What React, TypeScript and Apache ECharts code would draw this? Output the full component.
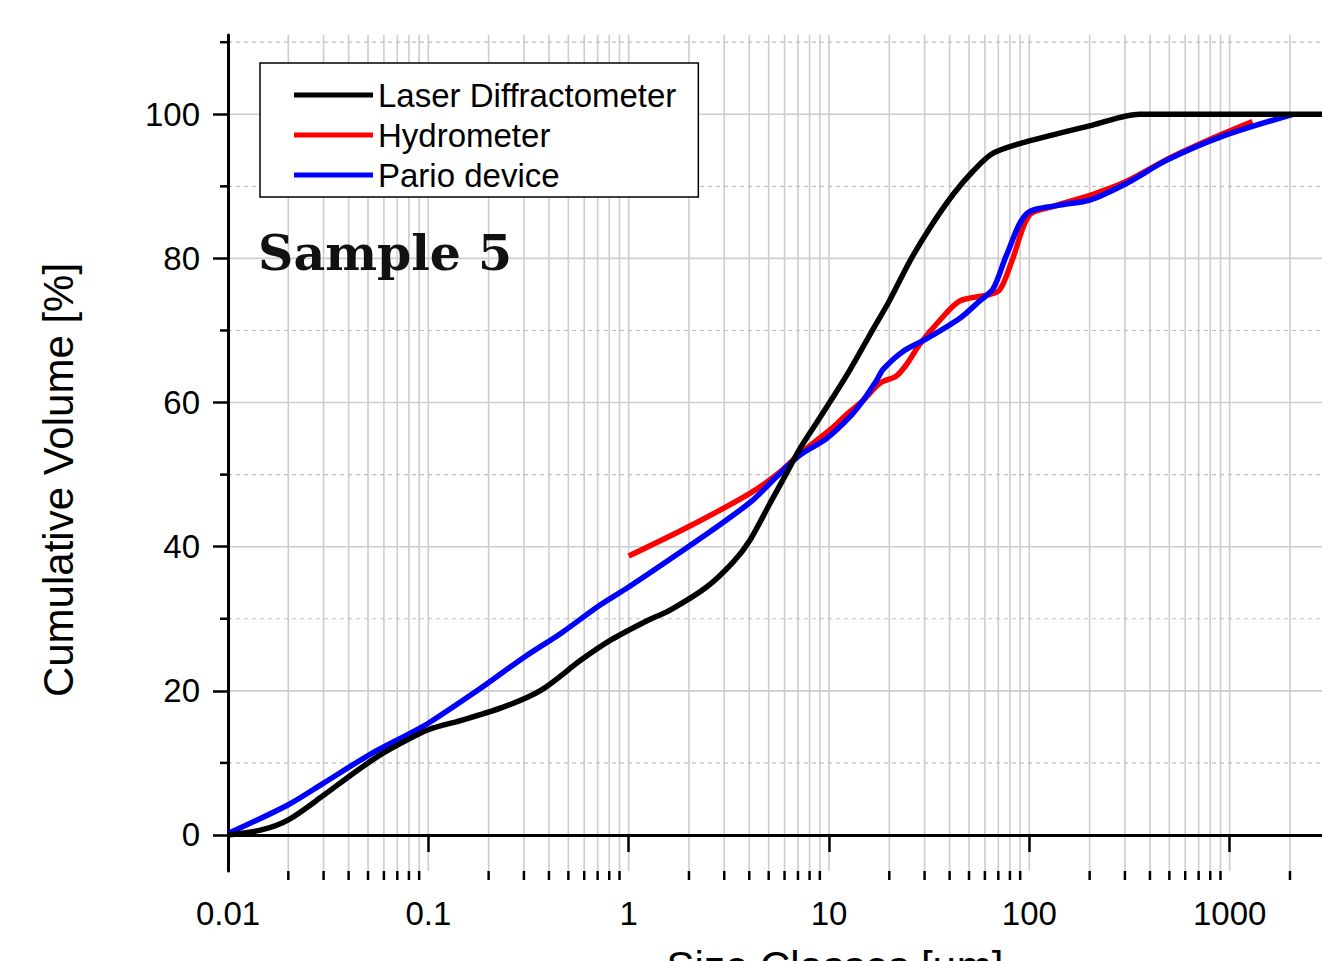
import React, { useEffect, useRef } from 'react';
import * as echarts from 'echarts';

// ---- data ----
const laserX = [0.01, 0.0147, 0.02, 0.03, 0.041, 0.056, 0.0705, 0.1, 0.146, 0.24, 0.366, 0.58, 0.82, 1.25, 1.61, 2.45, 3.33, 4.03, 5.07, 6.14, 7.16, 8.67, 10.5, 12.7, 16.6, 20, 25.3, 31.8, 41.7, 52.3, 66, 97, 207, 355, 500, 10000];
const laserY = [0, 0.7, 2.1, 5.5, 8.3, 10.9, 12.5, 14.6, 15.9, 17.8, 20.1, 24.3, 27.1, 29.8, 31.2, 34.4, 37.9, 40.9, 46.0, 50.2, 53.6, 57.2, 60.8, 64.5, 70.2, 74.1, 79.6, 84.2, 88.9, 92.1, 94.6, 96.2, 98.5, 100, 100, 100];

const hydroX = [1, 2, 4.03, 5.6, 7.16, 10.5, 12.3, 14.8, 18, 21.7, 24.4, 28.4, 34.4, 45, 61, 71, 82, 100, 131, 208, 306, 500, 825, 1300];
const hydroY = [38.7, 42.8, 47.4, 50.2, 52.9, 56.6, 58.4, 60.3, 62.7, 63.7, 65.3, 68.1, 70.9, 74.1, 74.9, 75.6, 79.7, 86.0, 87.2, 88.9, 90.7, 93.9, 96.7, 99.0];

const parioX = [0.01, 0.02, 0.03, 0.052, 0.081, 0.1, 0.177, 0.302, 0.46, 0.72, 1, 1.87, 3.08, 4.18, 5.47, 7.16, 9.72, 12.7, 14.8, 17.3, 18.6, 23.4, 30.9, 45, 56, 66, 77, 97, 142, 200, 305, 483, 890, 2070];
const parioY = [0.2, 4.2, 7.2, 11.3, 14.1, 15.5, 20.1, 24.7, 28.0, 31.9, 34.4, 39.5, 43.7, 46.5, 49.7, 52.7, 55.0, 58.0, 60.3, 63.1, 64.6, 67.1, 68.9, 71.7, 74.0, 75.8, 80.5, 86.2, 87.4, 88.1, 90.4, 93.6, 96.8, 100];

const seriesNames = ['Laser Diffractometer', 'Hydrometer', 'Pario device'];

// axis ticks
const xDecades = [0.01, 0.1, 1, 10, 100, 1000];
const xMultipliers = [1, 2, 3, 4, 5, 6, 7, 8, 9];
const xLabelValues = [0.01, 0.1, 1, 10, 100, 1000];
const yMajorTicks = [0, 20, 40, 60, 80, 100];
const yMinorTicks = [10, 30, 50, 70, 90, 110];

const X_MIN = 0.01;
const X_MAX = 10000;
const Y_MIN = -5;
const Y_MAX = 111;

const SANS = '"Liberation Sans", Arial, sans-serif';

function pairs(xs: number[], ys: number[]) {
  return xs.map((x, i) => [x, ys[i]]);
}

export default function App() {
  const ref = useRef<HTMLDivElement>(null);

  useEffect(() => {
    if (!ref.current) return;
    const chart = echarts.init(ref.current, undefined, { renderer: 'svg' });

    const gridX: number[][] = [];
    xDecades.forEach((d) => {
      xMultipliers.forEach((m) => {
        gridX.push([Number((d * m).toPrecision(6)), m === 1 ? 1 : 0]);
      });
    });
    gridX.push([X_MAX, 1]);

    const gridY: number[][] = [
      ...yMajorTicks.map((v) => [X_MIN, v, 1]),
      ...yMinorTicks.map((v) => [X_MIN, v, 0]),
    ];

    const lineCommon = {
      type: 'line',
      showSymbol: false,
      symbol: 'none',
      smooth: 0.3,
    };

    const option: any = {
      animation: false,
      backgroundColor: '#ffffff',
      grid: {
        left: 228,
        top: 35,
        width: 1202,
        height: 836,
        containLabel: false,
        outerBoundsMode: 'none',
      },
      xAxis: {
        type: 'log',
        logBase: 10,
        min: X_MIN,
        max: X_MAX,
        axisLine: { show: true, lineStyle: { color: '#000', width: 3 } },
        axisTick: { show: true, length: 17, lineStyle: { color: '#000', width: 2.5 } },
        axisLabel: {
          color: '#000',
          fontSize: 33,
          fontFamily: SANS,
          margin: 26,
          formatter: (v: number) => {
            const n = Number(Number(v).toPrecision(6));
            return xLabelValues.indexOf(n) >= 0 ? String(n) : '';
          },
        },
        splitLine: { show: false },
        minorTick: { show: false },
      },
      yAxis: {
        type: 'value',
        min: Y_MIN,
        max: Y_MAX,
        axisLine: { show: true, onZero: false, lineStyle: { color: '#000', width: 3 } },
        axisTick: { show: true, length: 15, customValues: yMajorTicks, lineStyle: { color: '#000', width: 2.5 } },
        axisLabel: {
          color: '#000',
          fontSize: 33,
          fontFamily: SANS,
          margin: 28,
          customValues: yMajorTicks,
        },
        splitLine: { show: false },
      },
      legend: {
        orient: 'vertical',
        left: 260,
        top: 63,
        data: seriesNames,
        icon: 'rect',
        itemWidth: 79,
        itemHeight: 5,
        itemGap: 6,
        padding: [15, 22, 5, 34],
        backgroundColor: '#ffffff',
        borderColor: '#000',
        borderWidth: 1.5,
        borderRadius: 0,
        textStyle: { fontSize: 33, fontFamily: SANS, color: '#000', lineHeight: 34 },
      },
      graphic: [
        {
          type: 'text',
          x: 58,
          y: 480,
          rotation: Math.PI / 2,
          style: {
            text: 'Cumulative Volume [%]',
            fontSize: 42,
            fontFamily: SANS,
            fill: '#000',
            align: 'center',
            verticalAlign: 'middle',
          },
        },
        {
          type: 'text',
          x: 835,
          y: 966,
          style: {
            text: 'Size Classes [µm]',
            fontSize: 42,
            fontFamily: SANS,
            fill: '#000',
            align: 'center',
            verticalAlign: 'middle',
          },
        },
        {
          type: 'text',
          x: 258,
          y: 253,
          style: {
            text: 'Sample 5',
            fontSize: 49,
            fontWeight: 'bold',
            fontFamily: '"DejaVu Serif", serif',
            fill: '#111',
            align: 'left',
            verticalAlign: 'middle',
          },
        },
      ],
      series: [
        {
          type: 'custom',
          name: 'vgrid',
          coordinateSystem: 'cartesian2d',
          silent: true,
          z: -1,
          clip: false,
          data: gridX,
          renderItem: (params: any, api: any) => {
            const x = api.value(0);
            const major = api.value(1) === 1;
            const top = api.coord([x, Y_MAX]);
            const bot = api.coord([x, Y_MIN]);
            const children: any[] = [
              {
                type: 'line',
                shape: { x1: top[0], y1: top[1], x2: bot[0], y2: bot[1] },
                style: { stroke: '#cdcdcd', lineWidth: 1.6 },
              },
            ];
            if (!major) {
              children.push({
                type: 'line',
                shape: { x1: bot[0], y1: bot[1], x2: bot[0], y2: bot[1] + 9 },
                style: { stroke: '#000', lineWidth: 2.5 },
              });
            }
            return { type: 'group', children };
          },
        },
        {
          type: 'custom',
          name: 'hgrid',
          coordinateSystem: 'cartesian2d',
          silent: true,
          z: -1,
          clip: false,
          data: gridY,
          renderItem: (params: any, api: any) => {
            const y = api.value(1);
            const major = api.value(2) === 1;
            const l = api.coord([X_MIN, y]);
            const r = api.coord([X_MAX, y]);
            const children: any[] = [
              {
                type: 'line',
                shape: { x1: l[0], y1: l[1], x2: r[0], y2: r[1] },
                style: major
                  ? { stroke: '#cdcdcd', lineWidth: 1.6 }
                  : { stroke: '#bdbdbd', lineWidth: 1.2, lineDash: [4, 4] },
              },
            ];
            if (!major) {
              children.push({
                type: 'line',
                shape: { x1: l[0] - 8, y1: l[1], x2: l[0], y2: l[1] },
                style: { stroke: '#000', lineWidth: 2.5 },
              });
            }
            return { type: 'group', children };
          },
        },
        {
          ...lineCommon,
          name: 'Hydrometer',
          data: pairs(hydroX, hydroY),
          color: '#ff0000',
          lineStyle: { color: '#ff0000', width: 5.5 },
          itemStyle: { color: '#ff0000' },
          z: 3,
        },
        {
          ...lineCommon,
          name: 'Pario device',
          data: pairs(parioX, parioY),
          color: '#0000ff',
          lineStyle: { color: '#0000ff', width: 5.5 },
          itemStyle: { color: '#0000ff' },
          z: 4,
        },
        {
          ...lineCommon,
          name: 'Laser Diffractometer',
          data: pairs(laserX, laserY),
          color: '#000000',
          lineStyle: { color: '#000000', width: 5.5 },
          itemStyle: { color: '#000000' },
          z: 5,
        },
      ],
    };

    chart.setOption(option);
    return () => {
      chart.dispose();
    };
  }, []);

  return (
    <div style={{ position: 'absolute', left: 0, top: 0, width: 1322, height: 961, overflow: 'hidden' }}>
      <div ref={ref} style={{ width: 1500, height: 961 }} />
    </div>
  );
}
